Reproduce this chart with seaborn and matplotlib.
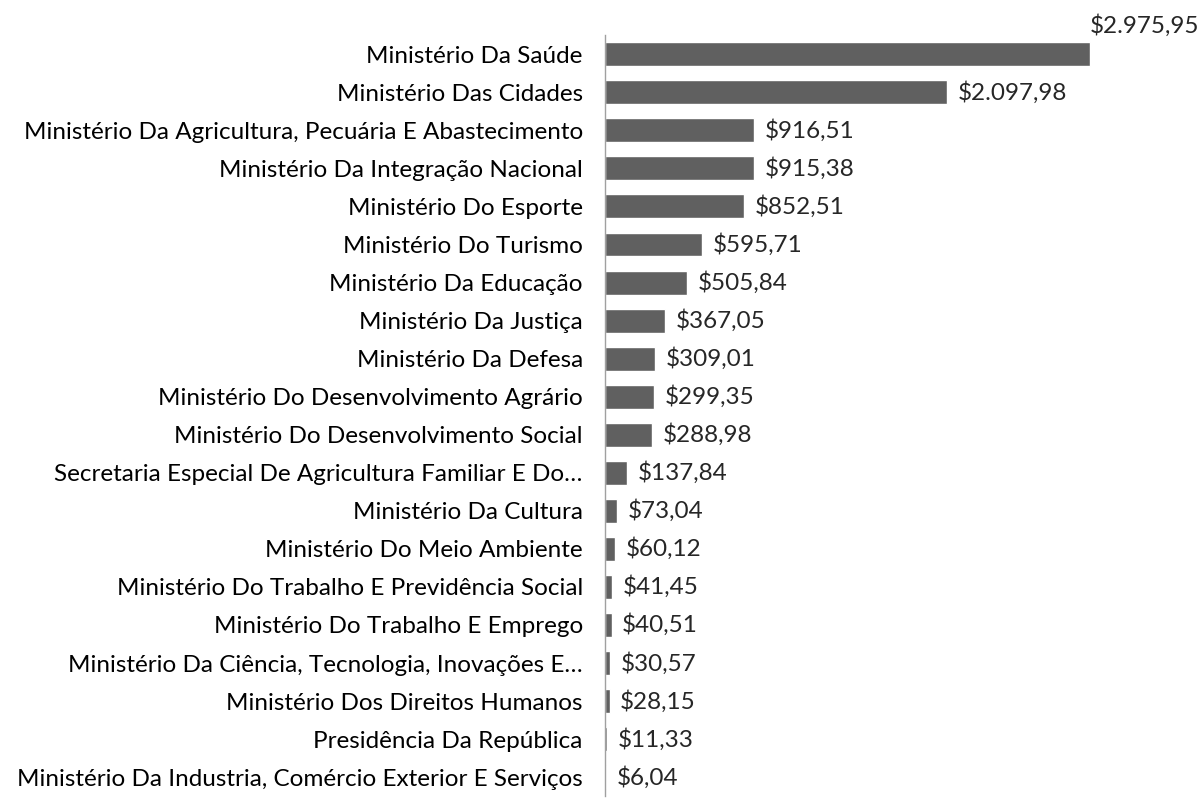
import pandas as pd
import numpy as np
import matplotlib.pyplot as plt
import seaborn as sns

ministerios = [
    "Ministério Da Saúde",
    "Ministério Das Cidades",
    "Ministério Da Agricultura, Pecuária E Abastecimento",
    "Ministério Da Integração Nacional",
    "Ministério Do Esporte",
    "Ministério Do Turismo",
    "Ministério Da Educação",
    "Ministério Da Justiça",
    "Ministério Da Defesa",
    "Ministério Do Desenvolvimento Agrário",
    "Ministério Do Desenvolvimento Social",
    "Secretaria Especial De Agricultura Familiar E Do…",
    "Ministério Da Cultura",
    "Ministério Do Meio Ambiente",
    "Ministério Do Trabalho E Previdência Social",
    "Ministério Do Trabalho E Emprego",
    "Ministério Da Ciência, Tecnologia, Inovações E…",
    "Ministério Dos Direitos Humanos",
    "Presidência Da República",
    "Ministério Da Industria, Comércio Exterior E Serviços",
]
valores = [2975.95, 2097.98, 916.51, 915.38, 852.51, 595.71, 505.84, 367.05,
           309.01, 299.35, 288.98, 137.84, 73.04, 60.12, 41.45, 40.51,
           30.57, 28.15, 11.33, 6.04]

df = pd.DataFrame({"orgao": ministerios, "valor": valores})


def brl(v):
    s = f"{v:,.2f}".replace(",", "X").replace(".", ",").replace("X", ".")
    return "$" + s


sns.set_style("white")
plt.rcParams['font.family'] = ['Lato', 'DejaVu Sans']
fs = 17.5

fig = plt.figure(figsize=(11.98, 8.01), dpi=100)
ax = fig.add_axes([0.505, 0.006, 0.408, 0.950])

sns.barplot(data=df, x="valor", y="orgao", color="#606060", width=0.63,
            saturation=1, ax=ax)

ax.set_xlim(0, 3000)
ax.set_ylim(len(df) - 0.5, -0.5)
ax.set_xlabel("")
ax.set_ylabel("")
ax.set_xticks([])
ax.tick_params(axis="y", length=0, labelsize=fs, pad=16, colors="black")
for s in ["top", "right", "bottom"]:
    ax.spines[s].set_visible(False)
ax.spines["left"].set_color("#a0a0a0")
ax.spines["left"].set_linewidth(1)

for i, v in enumerate(df["valor"]):
    if i == 0:
        ax.text(v, i - 0.45, brl(v), ha="left", va="bottom", fontsize=fs,
                clip_on=False)
    else:
        ax.text(v + 65, i, brl(v), ha="left", va="center", fontsize=fs)

fig.savefig("out.png", dpi=100)
